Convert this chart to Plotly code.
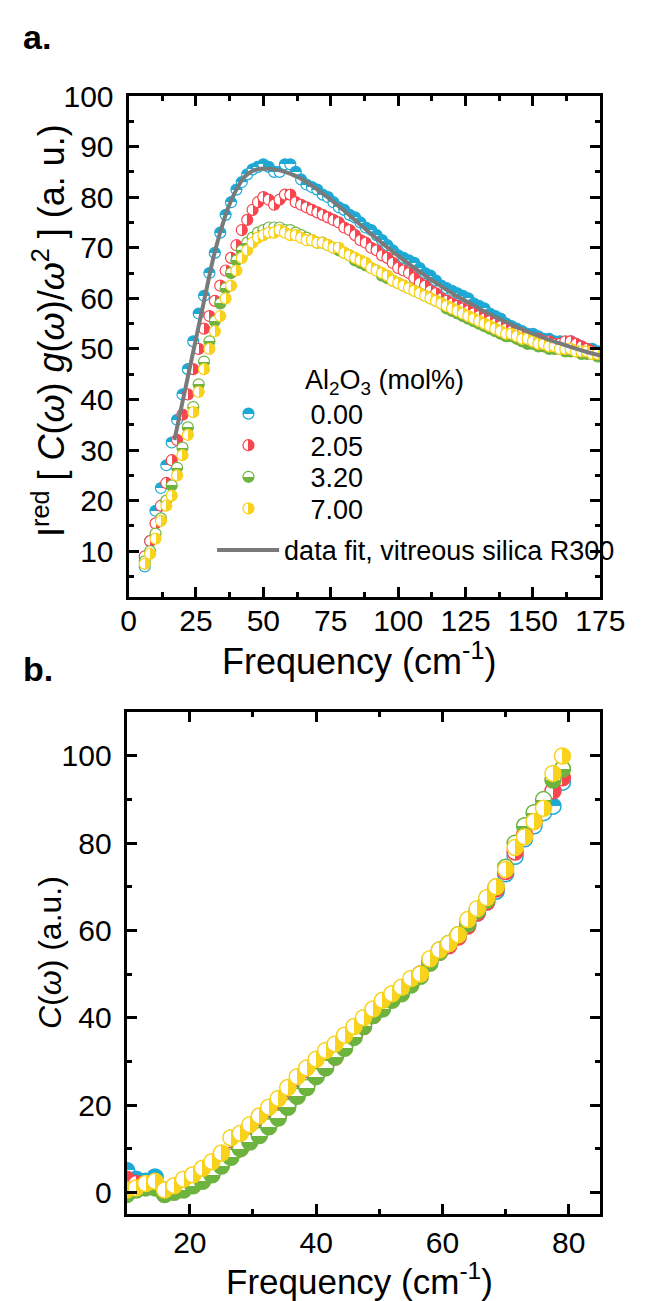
import plotly.graph_objects as go

# ---------------- Panel a data ----------------
freq_a = [6, 8, 10, 12, 14, 16, 18, 20, 22, 24, 26, 28, 30, 32, 34, 36, 38, 40, 42, 44,
          46, 48, 50, 52, 54, 56, 58, 60, 62, 64, 66, 68, 70, 72, 74, 76, 78, 80, 82, 84,
          86, 88, 90, 92, 94, 96, 98, 100, 102, 104, 106, 108, 110, 112, 114, 116, 118, 120, 122, 124,
          126, 128, 130, 132, 134, 136, 138, 140, 142, 144, 146, 148, 150, 152, 154, 156, 158, 160, 162, 164,
          166, 168, 170, 172, 174]

ired_000 = [7, 12, 18, 22.5, 27, 31.5, 36, 41, 46, 51.5,
            57, 60.5, 65, 69, 73, 76.5, 79, 81.5, 83, 84.5,
            85.5, 86, 86.5, 86, 85, 85, 86.5, 86.5, 85, 83.5,
            82.5, 82, 81.5, 80.5, 80, 79, 78, 77.5, 76.5, 76,
            75, 74, 73.5, 72.5, 71.5, 70.5, 69.5, 68.5, 68, 67.5,
            67, 66, 65, 64.5, 63.5, 62.5, 62, 61.5, 61, 60.5,
            60, 59, 58.5, 58, 57, 56.5, 56, 55, 54.5, 54,
            53.5, 53, 53, 52.5, 52, 52, 51.5, 51.5, 51, 51.5,
            51, 50.5, 50, 50, 49.5]

ired_205 = [9, 12, 15.5, 19, 23.5, 28, 32, 37, 41, 46,
            50, 54, 56.5, 59.5, 62.5, 65.5, 68, 70.5, 73.5, 75.5,
            77.5, 79, 80, 79.5, 78.5, 79.5, 80.5, 80.5, 79, 78.5,
            78, 77.5, 77, 76.5, 76, 75.5, 75, 74, 73.5, 72.5,
            71.5, 71, 70, 69.5, 68.5, 68, 67, 66, 65.5, 65,
            64, 63, 62.5, 61.5, 61, 60, 59.5, 59, 58.5, 58,
            57.5, 57, 56.5, 56, 55.5, 55, 54.5, 54, 53.5, 53,
            53, 52.5, 52, 52, 51.5, 51.5, 51, 51, 51.5, 51.5,
            51, 50.5, 50, 49.5, 49]

ired_320 = [8, 10, 13.5, 16.5, 20, 23, 26.5, 30.5, 34.5, 38.5,
            43, 47.5, 51.5, 55.5, 59, 62, 65, 67.5, 69.5, 71,
            72, 73, 73.5, 74, 74, 74, 73.5, 73.5, 73, 72.5,
            72, 71.5, 71, 71, 70.5, 70, 69.5, 69, 68.5, 67.5,
            67, 66.5, 66, 65.5, 64.5, 64, 63.5, 63, 62.5, 62,
            61.5, 61, 60.5, 60, 59.5, 59, 58, 57.5, 57, 56.5,
            56, 55.5, 55, 54.5, 54, 53.5, 53, 52.5, 52.5, 52,
            51.5, 51, 51, 50.5, 50.5, 50, 50, 50, 49.5, 49.5,
            49.5, 49, 49, 49, 48.5]

ired_700 = [7.5, 9.5, 12.5, 16, 19, 21, 25, 29, 33, 37.5,
            41.5, 46, 50, 53.5, 56.5, 60, 62.5, 65.5, 68, 69.5,
            71, 72, 72.5, 73, 73, 73.5, 73, 72.5, 72.5, 72,
            71.5, 71.5, 71, 71, 70.5, 70, 70, 69, 68.5, 68,
            67.5, 67, 66, 65.5, 65, 64.5, 63.5, 63, 62.5, 62,
            61.5, 61, 60.5, 60, 59.5, 59, 58.5, 58, 57.5, 57,
            56.5, 56, 55.5, 55, 54.5, 54, 53.5, 53, 53, 52.5,
            52, 52, 51.5, 51, 51, 50.5, 50.5, 50, 50, 50,
            49.5, 49.5, 49.5, 49, 49]

fit_x = [17, 19, 21, 23, 25, 27, 29, 31, 33, 35, 37, 40, 43, 46, 49, 52, 55, 58, 62, 66,
         70, 75, 80, 85, 90, 95, 100, 105, 110, 115, 120, 125, 130, 135, 140, 145, 150, 155,
         160, 165, 170, 175]
fit_y = [32, 37, 42, 47, 52, 57, 62, 67, 71.2, 74.8, 78, 81.5, 84, 85.2, 85.6, 85.6, 85.4, 85.0, 84.2, 83,
         81.5, 79.5, 77.3, 75, 72.7, 70.5, 68.4, 66.4, 64.5, 62.7, 61, 59.5, 58, 56.6, 55.3, 54.1, 53, 52,
         51.1, 50.2, 49.4, 48.7]

# ---------------- Panel b data ----------------
freq_b = [10, 11.5, 13, 14.5, 16, 17.5, 19, 20.5, 22, 23.5, 25, 26.5, 28, 29.5, 31, 32.5, 34, 35.5,
          37, 38.5, 40, 41.5, 43, 44.5, 46, 47.5, 49, 50.5, 52, 53.5, 55, 56.5, 58, 59.5, 61, 62.5,
          64, 65.5, 67, 68.5, 70, 71.5, 73, 74.5, 76, 77.5, 79]

c_000 = [5, 3, 2.5, 3.5, 0.5, 0.5, 1, 2, 3, 4.5,
         6.5, 8.5, 10.5, 12, 13.5, 15.5, 17.5, 20, 22.5, 24.5,
         27, 29, 31.5, 33.5, 36, 38.5, 41, 42.5, 44.5, 46,
         48, 50, 53, 55.5, 57, 59, 61.5, 64, 66.5, 69,
         73, 77, 81, 84, 87, 88.5, 94]
c_205 = [3, 2, 1.5, 2, 0, 0.5, 1, 2, 3, 4.5,
         6.5, 8.5, 10, 12, 13.5, 15.5, 17.5, 20, 22.5, 24.5,
         27, 29, 31, 33.5, 36, 38, 40.5, 42.5, 44.5, 46,
         48, 50, 53, 55, 56.5, 58.5, 61, 64, 66.5, 69.5,
         73.5, 78, 82, 85, 88.5, 92, 95]
c_320 = [-0.5, 0.5, 1, 1, -0.5, 0, 0.5, 1.5, 2.5, 4,
         6, 8, 10, 11.5, 13, 15, 17, 19.5, 22, 24,
         26.5, 28.5, 31, 33, 35.5, 38, 40.5, 42, 44, 45.5,
         47.5, 49.5, 52.5, 55, 57, 59, 61.5, 64.5, 67, 70,
         74.5, 80, 84, 87, 90, 94.5, 97]
c_700 = [0.5, 1, 2, 2.5, 0.5, 1.5, 3, 4, 5.5, 7,
         9, 12.5, 13.5, 15.5, 17.5, 19.5, 21.5, 24, 26.5, 28.5,
         30.5, 32.5, 34, 36, 38, 40, 42, 44, 45.5, 47,
         49, 50, 53.5, 55.5, 57, 59, 62.5, 65, 67.5, 70,
         74, 79, 81.5, 85, 88, 96, 100]

labels = ["0.00", "2.05", "3.20", "7.00"]
colors = ["#1EA9D5", "#F8454F", "#6DB33F", "#F8D21C"]
# half-filled: (marker fill, gradient colour, gradient direction)
halves = [
    ("#1EA9D5", "white", "vertical"),     # top filled
    ("white", "#F8454F", "horizontal"),   # left filled
    ("white", "#6DB33F", "vertical"),     # bottom filled
    ("white", "#F8D21C", "horizontal"),   # left filled
]
legend_ids = ["legend", "legend2", "legend3", "legend4"]

series_a = [ired_000, ired_205, ired_320, ired_700]
series_b = [c_000, c_205, c_320, c_700]

FONT = "Liberation Sans, Arial, sans-serif"
TICK = 30
LEG = 27

fig = go.Figure()

for lab, col, (fc, gc, gt), ys, lg in zip(labels, colors, halves, series_a, legend_ids):
    fig.add_trace(go.Scatter(
        x=freq_a, y=ys, mode="markers", name=lab, legend=lg,
        marker=dict(size=11, color=fc, gradient=dict(type=gt, color=gc),
                    line=dict(color=col, width=1.2)),
        xaxis="x", yaxis="y"))

fig.add_trace(go.Scatter(
    x=fit_x, y=fit_y, mode="lines", name="data fit, vitreous silica R300",
    legend="legend5", line=dict(color="#7A7A7A", width=4, shape="spline"),
    xaxis="x", yaxis="y"))

for lab, col, (fc, gc, gt), ys in zip(labels, colors, halves, series_b):
    fig.add_trace(go.Scatter(
        x=freq_b, y=ys, mode="markers", name=lab, showlegend=False,
        marker=dict(size=16, color=fc, gradient=dict(type=gt, color=gc),
                    line=dict(color=col, width=1.5)),
        xaxis="x2", yaxis="y2"))

W, H = 651, 1301
def px_x(p):
    return p / W
def px_y(p):
    return 1 - p / H

axis_common = dict(
    showline=True, linewidth=3, linecolor="black", mirror="ticks",
    ticks="inside", ticklen=10, tickwidth=2.5, tickcolor="black",
    showgrid=False, zeroline=False,
    tickfont=dict(family=FONT, size=TICK, color="black"),
)

def leg(x_px, y_px, iw):
    return dict(x=px_x(x_px), xanchor="left", y=px_y(y_px), yanchor="middle",
                bgcolor="rgba(0,0,0,0)", borderwidth=0, itemwidth=iw,
                font=dict(family=FONT, size=LEG, color="black"))

def text_ann(text, x, y, size, angle=0, anchor="center"):
    return dict(text=text, x=px_x(x), y=px_y(y), xref="paper", yref="paper",
                xanchor=anchor, yanchor="middle", showarrow=False, textangle=angle,
                font=dict(family=FONT, size=size, color="black"))

fig.update_layout(
    width=W, height=H,
    margin=dict(l=0, r=0, t=0, b=0),
    paper_bgcolor="white", plot_bgcolor="white",
    font=dict(family=FONT, color="black"),
    xaxis=dict(domain=[px_x(127), px_x(624)], range=[0, 175], anchor="y",
               tickvals=[0, 25, 50, 75, 100, 125, 150, 175], ticklabelstandoff=-5,
               minor=dict(ticks="inside", ticklen=5, tickwidth=2.5, dtick=12.5, tick0=0, tickcolor="black"),
               **axis_common),
    yaxis=dict(domain=[px_y(588), px_y(81)], range=[1, 100], anchor="x",
               tickvals=[10, 20, 30, 40, 50, 60, 70, 80, 90, 100], ticklabelstandoff=6,
               minor=dict(ticks="inside", ticklen=5, tickwidth=2.5, dtick=5, tick0=0, tickcolor="black"),
               **axis_common),
    xaxis2=dict(domain=[px_x(125), px_x(624)], range=[10, 85], anchor="y2",
                tickvals=[20, 40, 60, 80], ticklabelstandoff=0,
                minor=dict(ticks="inside", ticklen=5, tickwidth=2.5, dtick=10, tick0=0, tickcolor="black"),
                **axis_common),
    yaxis2=dict(domain=[px_y(1213), px_y(705)], range=[-5, 110], anchor="x2",
                tickvals=[0, 20, 40, 60, 80, 100], ticklabelstandoff=6,
                minor=dict(ticks="inside", ticklen=5, tickwidth=2.5, dtick=10, tick0=0, tickcolor="black"),
                **axis_common),
    legend=leg(188, 403, 114),
    legend2=leg(188, 435, 114),
    legend3=leg(188, 467, 114),
    legend4=leg(188, 499, 114),
    legend5=leg(215, 541, 62),
    annotations=[
        text_ann("Al<sub>2</sub>O<sub>3</sub> (mol%)", 311, 371, LEG, anchor="left"),
        text_ann("<b>a.</b>", 14, 21, 34, anchor="left"),
        text_ann("<b>b.</b>", 14, 661, 34, anchor="left"),
        text_ann("Frequency (cm<sup>-1</sup>)", 370, 651, 36),
        text_ann("Frequency (cm<sup>-1</sup>)", 370, 1279, 35),
        text_ann("I<sup>red</sup> [ <i>C</i>(<i>ω</i>) <i>g</i>(<i>ω</i>)/<i>ω</i><sup>2</sup> ] (a. u.)",
                 43, 318, 36, angle=-90),
        text_ann("<i>C</i>(<i>ω</i>) (a.u.)", 45, 948, 32, angle=-90),
    ],
)

post = """
document.body.style.margin = '0';
document.body.style.padding = '0';
var gd = document.getElementById('{plot_id}');
gd.querySelectorAll('linearGradient stop').forEach(function(s){ s.setAttribute('offset', '50%'); });
"""
fig.write_html("out.html", post_script=post, config={"displayModeBar": False})
